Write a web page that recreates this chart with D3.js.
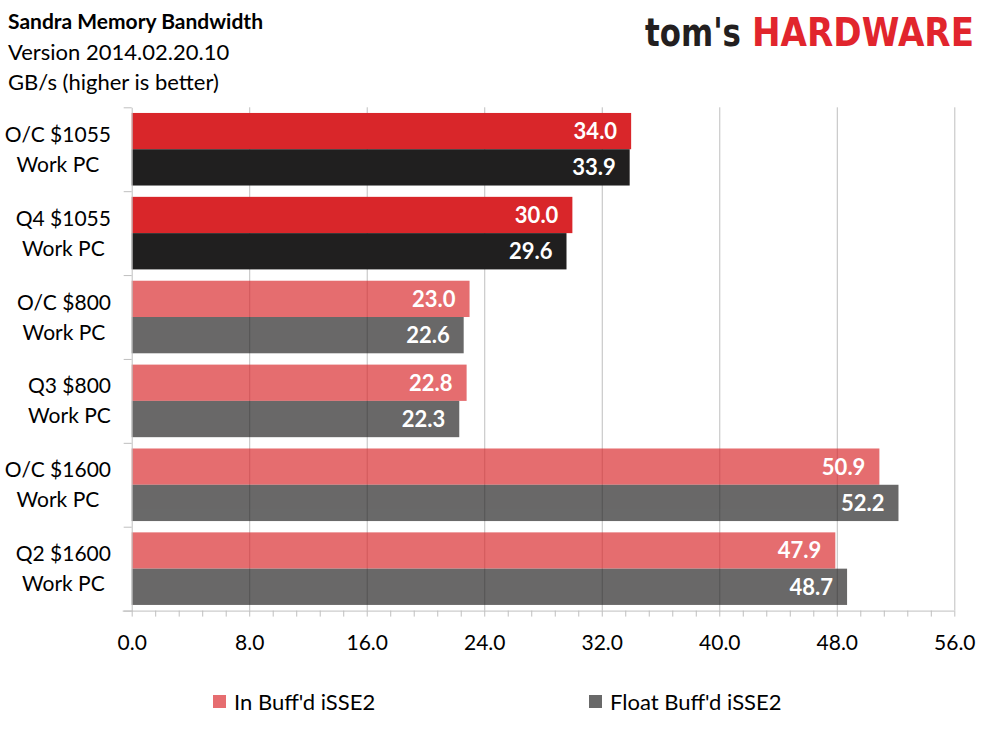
<!DOCTYPE html>
<html>
<head>
<meta charset="utf-8">
<script src="https://cdn.jsdelivr.net/npm/d3@7"></script>
<style>
  body { margin: 0; background: #fff; }
  svg text { font-family: Lato, "Open Sans", sans-serif; }
  .axis path, .axis line { stroke: #bfbfbf; }
</style>
</head>
<body>
<svg id="chart"></svg>
<script>
// data
var categories = ["O/C $1055|Work PC", "Q4 $1055|Work PC", "O/C $800|Work PC", "Q3 $800|Work PC", "O/C $1600|Work PC", "Q2 $1600|Work PC"];
var inBuff = [34.0, 30.0, 23.0, 22.8, 50.9, 47.9];
var floatBuff = [33.9, 29.6, 22.6, 22.3, 52.2, 48.7];
var highlighted = [true, true, false, false, false, false];
var seriesNames = ["In Buff'd iSSE2", "Float Buff'd iSSE2"];
var majorTicks = [0, 8, 16, 24, 32, 40, 48, 56];
var titleLines = ["Sandra Memory Bandwidth", "Version 2014.02.20.10", "GB/s (higher is better)"];

var W = 989, H = 741;
var plot = {left: 131.7, right: 954.3, top: 107.3, bottom: 610.6};
var colors = ["#d9262a", "#201f1f"];
var fadeOpacity = 0.67;

var rows = categories.map(function(c, i){
    return {cat: c, hi: highlighted[i], vals: [inBuff[i], floatBuff[i]]};
});

var svg = d3.select("#chart").attr("width", W).attr("height", H);

var xScale = d3.scaleLinear().domain([0, 56]).range([plot.left, plot.right]);
var yScale0 = d3.scaleBand().domain(categories).range([plot.top, plot.bottom]).padding(0);
var yScale1 = d3.scaleBand().domain([0, 1]).range([0, yScale0.bandwidth()]).paddingInner(0).paddingOuter(0.156);

// gridlines (behind bars, the faded bars let them show through)
svg.append("g").attr("class", "axis grid")
    .attr("transform", "translate(0," + plot.bottom + ")")
    .call(d3.axisBottom(xScale).tickValues(majorTicks.slice(1)).tickSize(-(plot.bottom - plot.top)).tickFormat(""))
    .call(g => g.select(".domain").remove());

// bars
var groups = svg.append("g").selectAll("g")
    .data(rows)
    .join("g")
    .attr("transform", d => "translate(0," + yScale0(d.cat) + ")")
    .attr("opacity", d => d.hi ? 1 : fadeOpacity);

groups.selectAll("rect")
    .data(d => d.vals.map((v, k) => ({k: k, v: v})))
    .join("rect")
    .attr("x", xScale(0))
    .attr("y", d => yScale1(d.k))
    .attr("width", d => xScale(d.v) - xScale(0))
    .attr("height", yScale1.bandwidth())
    .attr("fill", d => colors[d.k]);

// value labels
svg.append("g").selectAll("g")
    .data(rows)
    .join("g")
    .attr("transform", d => "translate(0," + yScale0(d.cat) + ")")
    .selectAll("text")
    .data(d => d.vals.map((v, k) => ({k: k, v: v})))
    .join("text")
    .attr("x", d => xScale(d.v) - 14)
    .attr("y", d => yScale1(d.k) + yScale1.bandwidth() / 2)
    .attr("dy", "0.36em")
    .attr("text-anchor", "end")
    .attr("font-size", 22)
    .attr("font-weight", "bold")
    .attr("fill", "#fff")
    .text(d => d3.format(".1f")(d.v));

// x axis: minor ticks every 1.6
var minor = d3.range(0, 56.01, 1.6);
svg.append("g").attr("class", "axis")
    .attr("transform", "translate(0," + plot.bottom + ")")
    .call(d3.axisBottom(xScale).tickValues(minor).tickSize(6).tickSizeOuter(0).tickFormat(""))
    .call(g => g.select(".domain").attr("d", "M" + (plot.left - 9) + ",0.5H" + plot.right));

svg.append("g")
    .attr("transform", "translate(0," + plot.bottom + ")")
    .call(d3.axisBottom(xScale).tickValues(majorTicks).tickSize(0).tickPadding(24).tickFormat(d3.format(".1f")))
    .call(g => g.select(".domain").remove())
    .selectAll("text").attr("font-size", 21).attr("fill", "#000").style("font-family", "Lato");

// y axis with ticks on category boundaries
var yEdge = d3.scaleLinear().domain([0, categories.length]).range([plot.top, plot.bottom]);
svg.append("g").attr("class", "axis")
    .attr("transform", "translate(" + plot.left + ",0)")
    .call(d3.axisLeft(yEdge).ticks(categories.length).tickSize(8).tickSizeOuter(0).tickFormat(""));

// category labels, two lines, block right aligned at x=111
var catLabels = svg.append("g").selectAll("text")
    .data(rows)
    .join("text")
    .attr("font-size", 21)
    .attr("fill", "#000")
    .attr("text-anchor", "middle");
catLabels.each(function(d){
    var t = d3.select(this);
    var lines = d.cat.split("|");
    var cy = yScale0(d.cat) + yScale0.bandwidth() / 2;
    lines.forEach(function(l, i){
        t.append("tspan").attr("y", cy + (i - 0.5) * 30).attr("dy", "0.36em").text(l);
    });
    var maxw = 0;
    t.selectAll("tspan").each(function(){ maxw = Math.max(maxw, this.getComputedTextLength()); });
    t.selectAll("tspan").attr("x", 111 - maxw / 2);
});

// titles
svg.append("g").selectAll("text")
    .data(titleLines)
    .join("text")
    .attr("x", 8)
    .attr("y", (d, i) => 29 + i * 30.5)
    .attr("font-size", (d, i) => i == 0 ? 21 : 22)
    .attr("font-weight", (d, i) => i == 0 ? "bold" : "normal")
    .attr("fill", "#000")
    .text(d => d);

// legend
var legendX = [213, 589];
var legend = svg.append("g").selectAll("g")
    .data(seriesNames)
    .join("g")
    .attr("transform", (d, i) => "translate(" + legendX[i] + ",695)");
legend.append("rect").attr("width", 13).attr("height", 13)
    .attr("fill", (d, i) => colors[i]).attr("opacity", fadeOpacity);
legend.append("text").attr("x", 21).attr("y", 7).attr("dy", "0.36em")
    .attr("font-size", 22).attr("fill", "#000").text(d => d);

// logo (scaled vertically a bit so the narrower glyphs keep the height)
var logo = svg.append("g").attr("transform", "translate(0,46) scale(1,1.15)");
logo.append("text").attr("x", 645).attr("y", 0)
    .attr("font-size", 34).attr("font-weight", "bold")
    .attr("textLength", 96).attr("lengthAdjust", "spacingAndGlyphs")
    .style("font-family", "'DejaVu Sans', sans-serif")
    .attr("fill", "#231f20").text("tom's");
logo.append("text").attr("x", 752).attr("y", 0)
    .attr("font-size", 34).attr("font-weight", "bold")
    .attr("textLength", 222).attr("lengthAdjust", "spacingAndGlyphs")
    .style("font-family", "'DejaVu Sans', sans-serif")
    .attr("fill", "#e1252d").text("HARDWARE");
</script>
</body>
</html>
